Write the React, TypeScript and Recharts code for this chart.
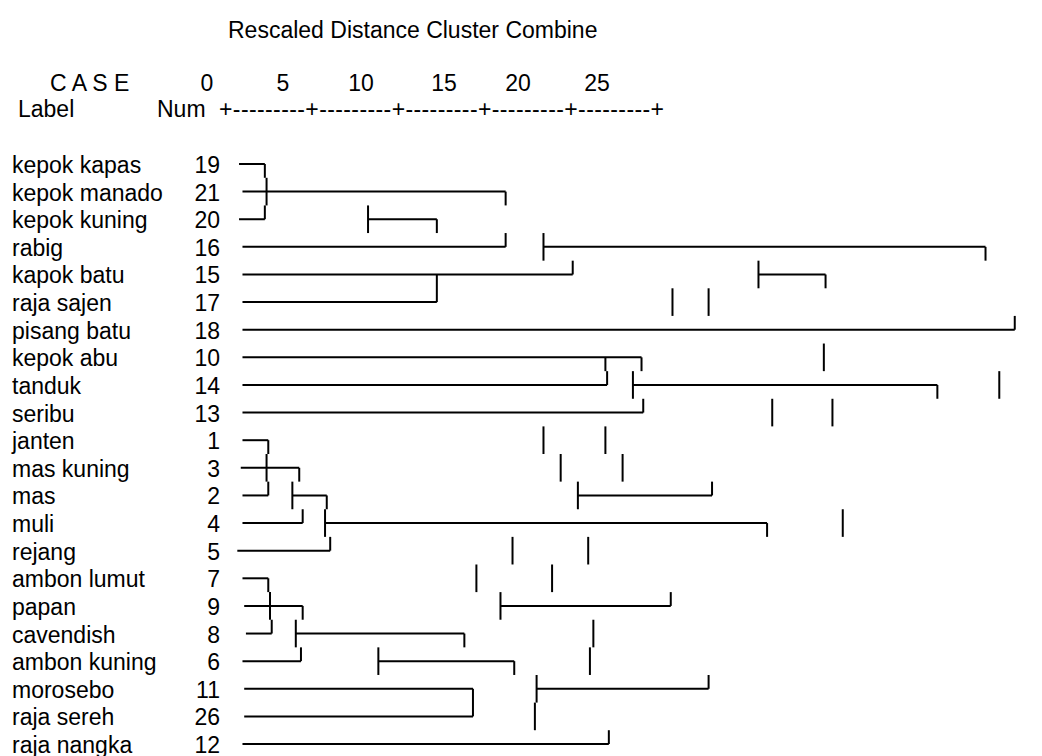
import { ComposedChart, XAxis, YAxis, ReferenceLine } from "recharts";

const caseLabels = [
  "kepok kapas", "kepok manado", "kepok kuning", "rabig", "kapok batu", "raja sajen",
  "pisang batu", "kepok abu", "tanduk", "seribu", "janten", "mas kuning", "mas", "muli",
  "rejang", "ambon lumut", "papan", "cavendish", "ambon kuning", "morosebo", "raja sereh",
  "raja nangka",
];
const caseNums = [
  "19", "21", "20", "16", "15", "17", "18", "10", "14", "13", "1", "3", "2", "4", "5",
  "7", "9", "8", "6", "11", "26", "12",
];
const scaleTicks = ["0", "5", "10", "15", "20", "25"];
const scaleRuler = "+---------+---------+---------+---------+---------+";

// horizontal runs: [row, from, to] in rescaled distance
const hRuns: number[][] = [
  [0, 0.7, 2.2], [1, 0.9, 16.2], [2, 0.7, 2.2], [2, 8.2, 12.2],
  [3, 0.9, 16.2], [3, 18.4, 44.1], [4, 0.9, 20.1], [4, 30.9, 34.8],
  [5, 0.9, 12.2], [6, 0.9, 45.8], [7, 0.9, 24.1], [8, 0.9, 22.1],
  [8, 23.6, 41.3], [9, 0.9, 24.2], [10, 0.9, 2.4], [11, 0.8, 4.2],
  [12, 0.9, 2.4], [12, 3.8, 5.8], [12, 20.4, 28.2], [13, 0.9, 4.4],
  [13, 5.7, 31.4], [14, 0.6, 6.0], [15, 0.9, 2.4], [16, 1.0, 4.4],
  [16, 15.9, 25.8], [17, 1.1, 2.6], [17, 4.0, 13.8], [18, 0.9, 4.3],
  [18, 8.8, 16.7], [19, 1.0, 14.3], [19, 18.0, 28.0], [20, 1.0, 14.3],
  [21, 0.9, 22.2],
];

// vertical runs: [at, fromRow, toRow]
const vRuns: number[][] = [
  [2.2, 0, 0.5], [2.3, 0.5, 1.5], [2.2, 1.5, 2],
  [16.2, 1, 1.5], [16.2, 2.5, 3], [8.2, 1.5, 2.5], [12.2, 2, 2.5],
  [18.4, 2.5, 3.5], [44.1, 3, 3.5], [20.1, 3.5, 4], [12.2, 4, 5],
  [30.9, 3.5, 4.5], [34.8, 4, 4.5], [25.9, 4.5, 5.5], [28.0, 4.5, 5.5],
  [45.8, 5.5, 6], [24.1, 7, 7.5], [22.0, 7, 7.5], [22.1, 7.5, 8],
  [34.7, 6.5, 7.5], [23.6, 7.5, 8.5], [41.3, 8, 8.5], [44.9, 7.5, 8.5],
  [24.2, 8.5, 9], [31.7, 8.5, 9.5], [35.2, 8.5, 9.5],
  [18.4, 9.5, 10.5], [22.0, 9.5, 10.5], [19.4, 10.5, 11.5], [23.0, 10.5, 11.5],
  [20.4, 11.5, 12.5], [28.2, 11.5, 12],
  [2.4, 10, 10.5], [2.3, 10.5, 11.5], [2.4, 11.5, 12], [4.2, 11, 11.5],
  [3.8, 11.5, 12.5], [5.8, 12, 12.5], [4.4, 12.5, 13], [5.7, 12.5, 13.5],
  [31.4, 13, 13.5], [35.8, 12.5, 13.5], [6.0, 13.5, 14],
  [16.6, 13.5, 14.5], [21.0, 13.5, 14.5], [14.5, 14.5, 15.5], [18.9, 14.5, 15.5],
  [2.4, 15, 15.5], [2.5, 15.5, 16.5], [2.6, 16.5, 17], [4.4, 16, 16.5],
  [15.9, 15.5, 16.5], [25.8, 15.5, 16], [4.0, 16.5, 17.5], [13.8, 17, 17.5],
  [4.3, 17.5, 18], [21.3, 16.5, 17.5], [21.1, 17.5, 18.5],
  [8.8, 17.5, 18.5], [16.7, 18, 18.5], [14.3, 19, 20],
  [18.0, 18.5, 19.5], [17.9, 19.5, 20.5], [28.0, 18.5, 19], [22.2, 20.5, 21],
];

const W = 1042;
const H = 756;
const AXIS_W = 230;
const FONT = "'Liberation Sans', Arial, Helvetica, sans-serif";

const CaseTick = (props: any) => {
  const { y, payload } = props;
  const i = Math.round(payload.value as number);
  return (
    <g>
      <text x={12} y={y} dy={9} fontSize={23} fontFamily={FONT} fill="#000">
        {caseLabels[i]}
      </text>
      <text x={220} y={y} dy={9} fontSize={23} fontFamily={FONT} fill="#000" textAnchor="end">
        {caseNums[i]}
      </text>
    </g>
  );
};

const tickX = [207, 283, 361, 444, 518, 597];

export default function App() {
  const rows = caseLabels.map((_, i) => i);
  const lineProps = { stroke: "#000", strokeWidth: 2, ifOverflow: "visible" as const };

  return (
    <div style={{ position: "absolute", left: 0, top: 0, width: W, height: H, background: "#fff" }}>
      <ComposedChart width={W} height={H} margin={{ top: 0, right: 0, bottom: 0, left: 0 }}>
        <XAxis
          type="number"
          dataKey="x"
          domain={[(AXIS_W - 227) / 17.2, (W - 227) / 17.2]}
          hide
          allowDataOverflow
        />
        <YAxis
          type="number"
          dataKey="y"
          domain={[-164 / 27.62, (H - 164) / 27.62]}
          reversed
          allowDataOverflow
          width={AXIS_W}
          ticks={rows}
          interval={0}
          axisLine={false}
          tickLine={false}
          tick={CaseTick}
        />
        {hRuns.map(([r, a, b], i) => (
          <ReferenceLine key={`h${i}`} segment={[{ x: a, y: r }, { x: b, y: r }]} {...lineProps} />
        ))}
        {vRuns.map(([x, a, b], i) => (
          <ReferenceLine key={`v${i}`} segment={[{ x, y: a }, { x, y: b }]} {...lineProps} />
        ))}
      </ComposedChart>
      <svg
        width={W}
        height={H}
        style={{ position: "absolute", left: 0, top: 0, pointerEvents: "none" }}
        fontFamily={FONT}
        fontSize={23}
      >
        <text x={228} y={38}>Rescaled Distance Cluster Combine</text>
        <text x={50} y={91}>C A S E</text>
        {scaleTicks.map((t, i) => (
          <text key={t} x={tickX[i]} y={91} textAnchor="middle">{t}</text>
        ))}
        <text x={18} y={117}>Label</text>
        <text x={157} y={117}>Num</text>
        <text x={219} y={117} textLength={445} lengthAdjust="spacing">{scaleRuler}</text>
      </svg>
    </div>
  );
}
